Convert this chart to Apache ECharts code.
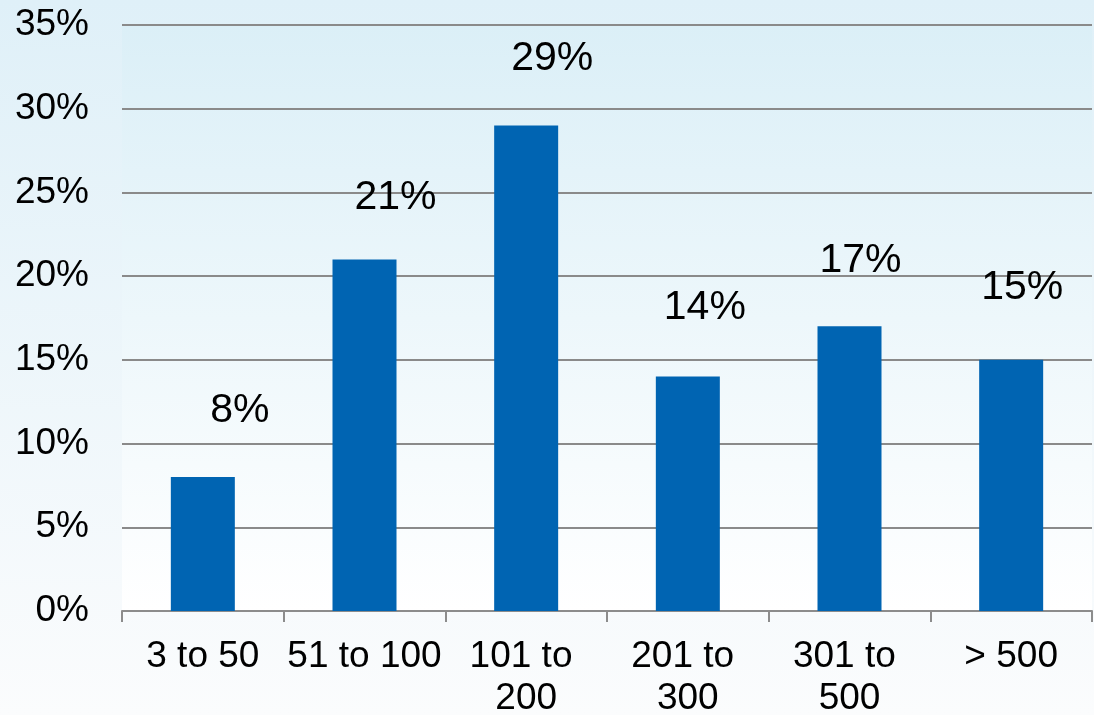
<!DOCTYPE html>
<html>
<head>
<meta charset="utf-8">
<script src="https://cdn.jsdelivr.net/npm/echarts@6/dist/echarts.min.js"></script>
<style>
html,body{margin:0;padding:0;width:1094px;height:715px;overflow:hidden;}
#c{width:1094px;height:715px;}
</style>
</head>
<body>
<div id="c"></div>
<script>
const categories = ['3 to 50', '51 to 100', '101 to 200', '201 to 300', '301 to 500', '> 500'];
const values = [8, 21, 29, 14, 17, 15];
const yTicks = { min: 0, max: 35, interval: 5 };
const labelOffsets = [[37, 0], [31, 5], [26, 0], [17, -2], [11, 1], [11, -6]];

const FONT = '"Liberation Sans", Arial, sans-serif';
const chart = echarts.init(document.getElementById('c'));
chart.setOption({
  animation: false,
  backgroundColor: new echarts.graphic.LinearGradient(0, 0, 0, 1, [
    { offset: 0, color: '#dff0f8' },
    { offset: 1, color: '#fbfcfd' }
  ]),
  grid: {
    left: 122, right: 2, top: 25, bottom: 104,
    containLabel: false,
    outerBoundsMode: 'none',
    show: true,
    borderWidth: 0,
    backgroundColor: new echarts.graphic.LinearGradient(0, 0, 0, 1, [
      { offset: 0, color: '#dbeff7' },
      { offset: 1, color: '#ffffff' }
    ])
  },
  xAxis: {
    type: 'category',
    data: categories,
    axisLine: { lineStyle: { color: '#8c8c8c', width: 2 } },
    axisTick: { show: true, length: 11, lineStyle: { color: '#8c8c8c', width: 2 } },
    axisLabel: {
      color: '#000', fontSize: 37, fontFamily: FONT, margin: 25,
      lineHeight: 42, width: 160, overflow: 'break', interval: 0
    }
  },
  yAxis: {
    type: 'value',
    min: yTicks.min, max: yTicks.max, interval: yTicks.interval,
    axisLine: { show: false },
    axisTick: { show: false },
    splitLine: { lineStyle: { color: '#8a8a8a', width: 2 } },
    axisLabel: {
      color: '#000', fontSize: 37, fontFamily: FONT, margin: 33,
      formatter: '{value}%'
    }
  },
  series: [{
    type: 'bar',
    barWidth: 64,
    itemStyle: { color: '#0064b2' },
    data: values.map((v, i) => ({
      value: v,
      label: { offset: labelOffsets[i] }
    })),
    label: {
      show: true, position: 'top', distance: 46,
      color: '#000', fontSize: 41, fontFamily: FONT,
      formatter: '{c}%'
    }
  }]
});
</script>
</body>
</html>
